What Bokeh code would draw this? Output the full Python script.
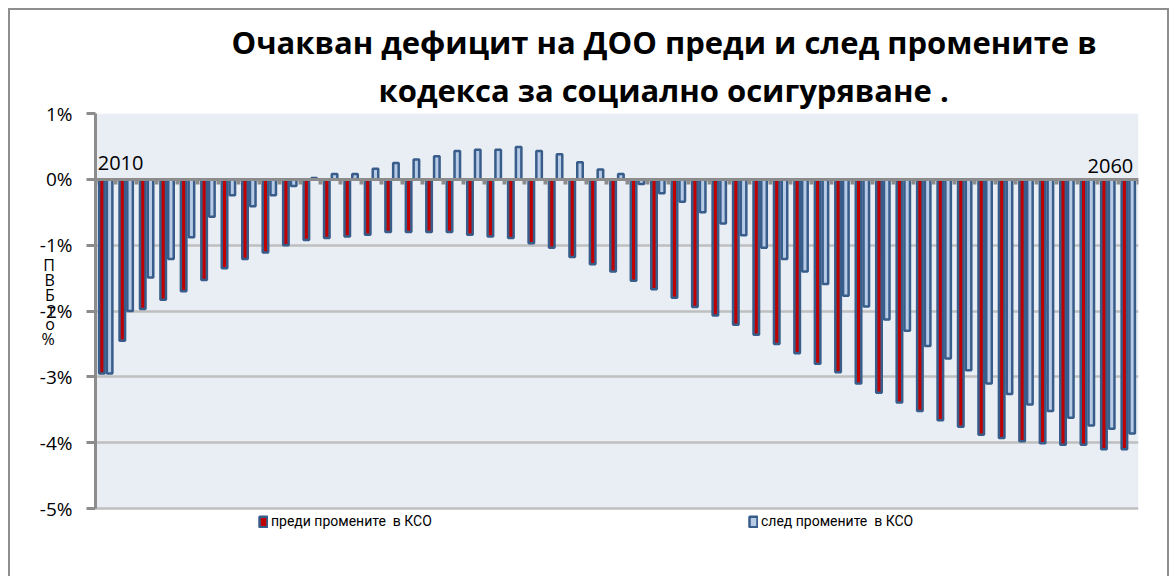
from bokeh.plotting import figure
from bokeh.models import (Range1d, FixedTicker, PrintfTickFormatter, Title, Legend, LegendItem,
                          ColumnDataSource, BoxAnnotation)
from bokeh.transform import dodge
from bokeh.core.properties import value
from bokeh.embed import file_html
from bokeh.resources import INLINE

# ---------------- data ----------------
years = list(range(2010, 2061))
before_changes = [-2.95, -2.45, -1.97, -1.83, -1.70, -1.53, -1.35, -1.21, -1.11, -1.00,
                  -0.92, -0.89, -0.87, -0.84, -0.80, -0.80, -0.80, -0.80, -0.84, -0.87,
                  -0.89, -0.97, -1.04, -1.18, -1.29, -1.40, -1.54, -1.67, -1.80, -1.94,
                  -2.07, -2.21, -2.36, -2.50, -2.64, -2.80, -2.93, -3.10, -3.24, -3.39,
                  -3.52, -3.66, -3.76, -3.88, -3.93, -3.98, -4.01, -4.03, -4.03, -4.10,
                  -4.10]
after_changes = [-2.95, -2.00, -1.49, -1.21, -0.88, -0.57, -0.24, -0.41, -0.24, -0.10,
                 0.02, 0.08, 0.08, 0.16, 0.25, 0.30, 0.35, 0.43, 0.45, 0.45,
                 0.49, 0.43, 0.38, 0.26, 0.15, 0.08, -0.07, -0.21, -0.34, -0.50,
                 -0.67, -0.85, -1.04, -1.21, -1.40, -1.59, -1.77, -1.93, -2.13, -2.30,
                 -2.53, -2.72, -2.90, -3.10, -3.26, -3.42, -3.52, -3.62, -3.74, -3.79,
                 -3.86]
y_ticks = [1, 0, -1, -2, -3, -4, -5]
series_names = ["преди промените  в КСО", "след промените  в КСО"]
title_lines = ["Очакван  дефицит  на ДОО преди и след промените в",
               "кодекса за социално осигуряване ."]
y_label_chars = ["П", "В", "Б", "т", "о", "%"]
first_label = str(years[0])
last_label = str(years[-1])

# ---------------- layout / styles ----------------
W, H = 1172, 576
AREA_TOP, AREA_BOTTOM = 113, 508          # pixel rows of the value-axis ends
BOTTOM_PAD = 12
FRAME_BOTTOM = H - BOTTOM_PAD
y_hi, y_lo_axis = max(y_ticks), min(y_ticks)
px_per_unit = (AREA_BOTTOM - AREA_TOP) / (y_hi - y_lo_axis)
y_lo_frame = y_lo_axis - (FRAME_BOTTOM - AREA_BOTTOM) / px_per_unit
LABEL_PAD_LINES = 5                       # lifts the stacked axis label towards the area centre

RED = "#C00000"
LIGHT = "#B7CAE6"
EDGE = "#385D8A"
GRAY = "#8C8C8C"
GRID = "#BFBFBF"
AREA_BG = "#E9EDF4"
FONT = "Open Sans"
LEG_FONT = "Roboto"
LINE = "linear-gradient(#8E8E8E,#8E8E8E)"
BORDER_BG = (f"{LINE} 8px 8px/2px 100% no-repeat, "
             f"{LINE} 8px 8px/1161px 2px no-repeat, "
             f"{LINE} 1167px 8px/2px 100% no-repeat")

src = ColumnDataSource(dict(year=years, before=before_changes, after=after_changes))

p = figure(width=W, height=H,
           x_range=Range1d(years[0] - 0.5, years[-1] + 0.5),
           y_range=Range1d(y_lo_frame, y_hi),
           output_backend="svg", toolbar_location=None, title=None,
           min_border_left=95, min_border_right=34, min_border_top=AREA_TOP,
           min_border_bottom=BOTTOM_PAD,
           background_fill_color="white", border_fill_alpha=0,
           outline_line_color=None,
           styles={"background": BORDER_BG})

# plot area background (value range only)
p.add_layout(BoxAnnotation(bottom=y_lo_axis, top=y_hi, fill_color=AREA_BG, fill_alpha=1,
                           line_color=None, level="image"))

r1 = p.vbar(x=dodge("year", -0.19), top="before", bottom=0, width=0.27, source=src,
            fill_color=RED, line_color=EDGE, line_width=2.5)
r2 = p.vbar(x=dodge("year", 0.19), top="after", bottom=0, width=0.27, source=src,
            fill_color=LIGHT, line_color=EDGE, line_width=2.5)

# grid
p.xgrid.visible = False
p.ygrid.ticker = FixedTicker(ticks=y_ticks)
p.ygrid.grid_line_color = GRID
p.ygrid.grid_line_width = 2.5

# y axis
p.yaxis.bounds = (y_lo_axis, y_hi)
p.yaxis.ticker = FixedTicker(ticks=y_ticks)
p.yaxis.formatter = PrintfTickFormatter(format="%d%%")
p.yaxis.axis_line_color = GRAY
p.yaxis.axis_line_width = 3
p.yaxis.major_tick_line_color = GRAY
p.yaxis.major_tick_line_width = 3
p.yaxis.major_tick_out = 9
p.yaxis.major_tick_in = 0
p.yaxis.minor_tick_line_color = None
p.yaxis.major_label_text_font = FONT
p.yaxis.major_label_text_font_size = "19px"
p.yaxis.major_label_text_color = "black"
p.yaxis.major_label_standoff = 14
p.yaxis.axis_label = "\n".join(y_label_chars + [""] * LABEL_PAD_LINES)
p.yaxis.axis_label_orientation = "horizontal"
p.yaxis.axis_label_standoff = -18
p.yaxis.axis_label_text_font = FONT
p.yaxis.axis_label_text_font_size = "16px"
p.yaxis.axis_label_text_font_style = "normal"
p.yaxis.axis_label_text_line_height = 0.67
p.yaxis.axis_label_text_color = "black"

# category axis at zero
boundaries = [y - 0.5 for y in years] + [years[-1] + 0.5]
p.xaxis.fixed_location = 0
p.xaxis.ticker = FixedTicker(ticks=boundaries)
p.xaxis.axis_line_color = GRAY
p.xaxis.axis_line_width = 3
p.xaxis.major_tick_line_color = GRAY
p.xaxis.major_tick_line_width = 4
p.xaxis.major_tick_out = 5
p.xaxis.major_tick_in = 0
p.xaxis.minor_tick_line_color = None
p.xaxis.major_label_text_font_size = "1px"
p.xaxis.major_label_text_color = None
p.xaxis.major_label_standoff = 0

# first / last year labels
p.text(x=[years[0]], y=[0], text=[first_label], text_align="left", text_baseline="alphabetic",
       x_offset=-8, y_offset=-16, text_font=value(FONT), text_font_size="20px", text_color="black")
p.text(x=[years[-1]], y=[0], text=[last_label], text_align="right", text_baseline="alphabetic",
       x_offset=5, y_offset=-13, text_font=value(FONT), text_font_size="20px", text_color="black")

# title (two lines, second line closest to the frame)
for line, so, off in ((title_lines[1], 5, 283), (title_lines[0], 3, 136)):
    p.add_layout(Title(text=line, align="left", offset=off, standoff=so, text_font=FONT,
                       text_font_size="31px", text_font_style="bold", text_color="black"), "above")

# legend (inside the frame, below the value area)
legend = Legend(items=[LegendItem(label=series_names[0], renderers=[r1]),
                       LegendItem(label=series_names[1], renderers=[r2])],
                location=(163, FRAME_BOTTOM - 531), orientation="horizontal",
                padding=0, margin=0, spacing=263, label_width=214,
                glyph_width=10, glyph_height=13, label_standoff=3, label_height=20,
                label_text_font=LEG_FONT, label_text_font_size="14px", label_text_color="black",
                border_line_alpha=0, background_fill_alpha=0)
p.add_layout(legend)

open("out.html", "w").write(file_html(p, INLINE))
